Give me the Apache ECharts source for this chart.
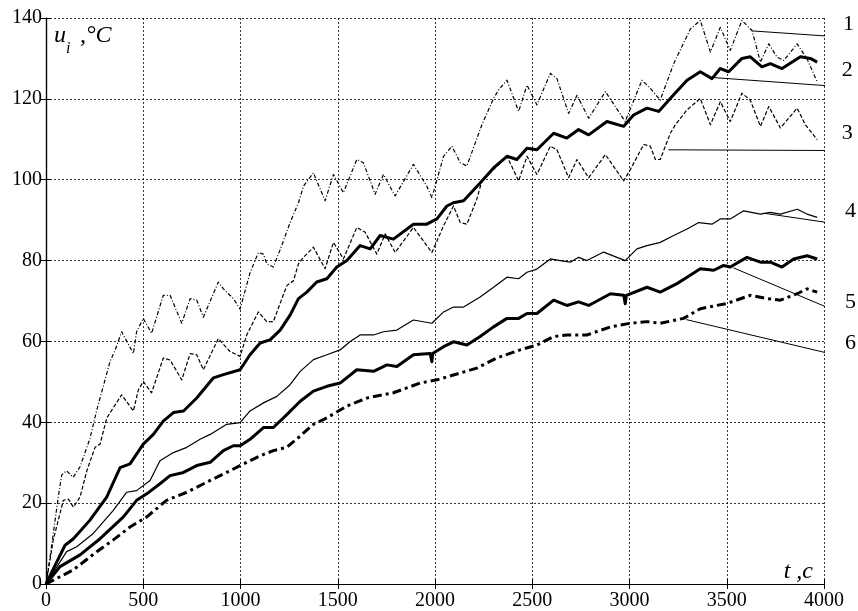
<!DOCTYPE html>
<html>
<head>
<meta charset="utf-8">
<script src="https://cdn.jsdelivr.net/npm/echarts@6/dist/echarts.min.js"></script>
<style>
  html, body { margin: 0; padding: 0; background: #fff; }
  #chart { width: 858px; height: 611px; }
</style>
</head>
<body>
<div id="chart"></div>
<script>
// Axis ticks
const xTicks = [0, 500, 1000, 1500, 2000, 2500, 3000, 3500, 4000];
const yTicks = [0, 20, 40, 60, 80, 100, 120, 140];

// Curve 1: thin dash-dot
const t1 = [0, 21, 63, 81, 106, 140, 175, 226, 261, 278, 329, 355, 389, 449, 466, 500, 543, 603, 638, 698, 741, 775, 809, 886, 912, 963, 998, 1049, 1092, 1118, 1135, 1169, 1212, 1255, 1298, 1324, 1375, 1435, 1478, 1529, 1598, 1632, 1692, 1735, 1795, 1889, 1958, 1984, 2044, 2087, 2130, 2164, 2241, 2301, 2327, 2370, 2430, 2473, 2524, 2593, 2627, 2687, 2730, 2790, 2876, 2961, 2978, 3064, 3107, 3158, 3227, 3313, 3364, 3416, 3467, 3518, 3578, 3630, 3673, 3716, 3759, 3793, 3862, 3913, 3965];
const u1 = [0, 6.7, 21.5, 27, 28, 26.4, 29, 36, 43, 46, 55, 57.8, 62.4, 57, 62.4, 65.7, 62, 71.4, 71.4, 64.5, 70.6, 70.2, 66, 74.7, 73, 70.6, 68, 77, 82, 81.6, 79.2, 78.4, 83.7, 89.4, 94.3, 98.4, 101.7, 94.8, 101.3, 96.8, 105, 104.2, 96.4, 101.3, 96, 103.8, 98.4, 95.6, 105.8, 108.3, 104.2, 103.4, 113.6, 120.1, 122.2, 124.6, 116.9, 123.4, 118.5, 126.3, 125, 116.4, 120.9, 115.2, 121.8, 115.6, 114.4, 124.6, 122.6, 119.7, 128.7, 137.3, 139.4, 131.6, 137.7, 132, 139.4, 136.9, 129.1, 133.6, 130.3, 129.5, 133.6, 129.9, 124.2];

// Curve 2: thick solid
const t2 = [0, 98, 141, 226, 312, 381, 432, 500, 552, 603, 655, 707, 775, 861, 912, 998, 1049, 1101, 1152, 1204, 1255, 1298, 1341, 1392, 1444, 1495, 1547, 1615, 1667, 1718, 1786, 1889, 1958, 2010, 2061, 2095, 2147, 2232, 2301, 2370, 2421, 2473, 2524, 2610, 2678, 2738, 2790, 2884, 2970, 3021, 3090, 3150, 3227, 3296, 3364, 3424, 3467, 3510, 3578, 3621, 3681, 3724, 3784, 3879, 3930, 3965];
const u2 = [0, 9.6, 11.2, 15.8, 21.5, 28.8, 29.7, 34.6, 37, 40.3, 42.4, 42.8, 46, 51, 51.8, 53, 56.7, 59.6, 60.4, 62.8, 66.5, 70.6, 72.2, 74.7, 75.5, 78.4, 80, 83.7, 82.9, 86.2, 85.3, 89, 89, 90.3, 93.5, 94.3, 94.8, 99.2, 102.9, 105.8, 105, 107.8, 107.4, 111.5, 110.3, 112.4, 111.1, 114.4, 113.2, 116, 117.7, 116.9, 121, 124.6, 126.7, 125, 127.5, 126.7, 130, 130.4, 127.9, 128.7, 127.5, 130.4, 130, 129.1];

// Curve 3: thin dashed
const t3 = [0, 38, 89, 115, 141, 175, 210, 252, 278, 312, 346, 389, 449, 475, 500, 543, 603, 638, 698, 741, 775, 809, 886, 946, 998, 1032, 1092, 1135, 1169, 1238, 1272, 1298, 1324, 1375, 1435, 1478, 1529, 1598, 1641, 1701, 1744, 1795, 1889, 1958, 1984, 2044, 2095, 2130, 2164, 2215, 2241, 2301, 2370, 2430, 2473, 2524, 2593, 2627, 2687, 2730, 2790, 2876, 2970, 3004, 3073, 3107, 3133, 3158, 3210, 3236, 3296, 3364, 3416, 3467, 3518, 3578, 3621, 3673, 3716, 3776, 3862, 3904, 3965];
const u3 = [0, 11, 20.7, 21, 19, 21.5, 28, 33.8, 34.6, 41, 43.6, 46.8, 42.8, 48, 50.1, 47.3, 55.9, 55.4, 50.5, 57, 56.7, 53, 60.7, 57.5, 56.3, 61.6, 67.3, 64.9, 64.9, 73.8, 75, 79.2, 80.8, 83.3, 78, 84.5, 80.4, 88.2, 87, 81.6, 86.6, 82, 88.2, 83.7, 82, 88.6, 93.5, 89.4, 89, 95.2, 99.7, 102.5, 105.8, 99.7, 105.8, 101.3, 108.3, 107.4, 100.5, 105, 100.5, 106.2, 99.7, 102.5, 108.7, 108.3, 105, 105, 111.5, 113.6, 117.3, 120.1, 113.6, 119.3, 114.4, 121.4, 119.7, 113.2, 118.1, 112.8, 117.7, 113.6, 109.9];

// Curve 4: thin solid
const t4 = [0, 106, 158, 243, 346, 415, 466, 535, 586, 655, 724, 792, 844, 929, 998, 1049, 1118, 1187, 1255, 1307, 1375, 1444, 1512, 1564, 1615, 1684, 1735, 1804, 1889, 1984, 2044, 2095, 2147, 2232, 2301, 2370, 2430, 2473, 2524, 2593, 2644, 2696, 2738, 2781, 2867, 2978, 3038, 3090, 3158, 3227, 3296, 3356, 3424, 3467, 3518, 3587, 3673, 3724, 3776, 3862, 3913, 3965];
const u4 = [0, 8, 9.2, 12.5, 18.2, 22.7, 23.1, 25.6, 30.5, 32.5, 33.8, 35.8, 37, 39.5, 39.9, 42.8, 44.8, 46.4, 49.3, 52.6, 55.5, 56.7, 57.9, 60, 61.6, 61.6, 62.4, 62.8, 65.3, 64.5, 67.3, 68.5, 68.5, 71, 73.4, 75.9, 75.5, 77.1, 77.9, 80.4, 80, 79.6, 80.8, 80, 82.1, 80, 82.9, 83.7, 84.5, 86.2, 87.8, 89.4, 89, 90.3, 90.3, 92.3, 91.5, 91.9, 91.5, 92.7, 91.5, 90.7];

// Curve 5: thick solid
const t5 = [0, 72, 175, 278, 398, 466, 518, 586, 638, 707, 775, 844, 912, 963, 998, 1049, 1118, 1169, 1238, 1307, 1375, 1444, 1512, 1598, 1684, 1753, 1804, 1889, 1975, 1984, 1988, 2044, 2095, 2164, 2232, 2301, 2370, 2430, 2473, 2524, 2610, 2678, 2738, 2790, 2902, 2970, 2978, 2984, 3090, 3158, 3244, 3296, 3364, 3433, 3484, 3518, 3604, 3673, 3724, 3784, 3844, 3913, 3965];
const u5 = [0, 4.3, 7.2, 11.2, 16.6, 20.7, 22.3, 24.8, 26.8, 27.6, 29.3, 30.1, 33, 34.2, 34.2, 35.8, 38.7, 38.7, 41.9, 45.2, 47.7, 48.9, 49.7, 53, 52.6, 54.2, 53.8, 56.7, 57, 55, 57, 58.7, 59.9, 59.1, 61.2, 63.6, 65.7, 65.7, 66.9, 66.9, 70.2, 68.9, 69.8, 68.9, 71.8, 71.4, 69.3, 71.4, 73.4, 72.2, 74.3, 75.9, 78, 77.6, 78.8, 78.4, 80.8, 79.6, 79.6, 78.4, 80.4, 81.2, 80.4];

// Curve 6: thick dash-dot
const t6 = [0, 72, 141, 261, 346, 432, 518, 620, 724, 827, 929, 998, 1101, 1169, 1238, 1307, 1375, 1444, 1547, 1650, 1786, 1924, 2010, 2130, 2215, 2318, 2438, 2524, 2610, 2678, 2781, 2902, 3004, 3090, 3158, 3278, 3364, 3501, 3621, 3707, 3776, 3862, 3913, 3965];
const u6 = [0, 1.8, 3.5, 8, 10.9, 14.1, 16.6, 20.7, 22.7, 25.2, 27.6, 29.3, 31.7, 33, 33.8, 36.6, 39.5, 41.1, 44, 46, 47.3, 49.7, 50.5, 52.2, 53.4, 55.9, 57.9, 59.1, 61.2, 61.6, 61.6, 63.6, 64.5, 64.9, 64.5, 65.7, 68.1, 69.4, 71.4, 70.6, 70.2, 71.8, 73, 72.2];

// Curve numbers and their leader lines (start on the curve, end past the right edge)
const curveNames = ['1', '2', '3', '4', '5', '6'];
const leaderStart = [[3632, 136.8], [3421, 125.3], [3200, 107.4], [3693, 91.7], [3534, 78.2], [3292, 65.4]];
const leaderEnd = [[4146, 135.1], [4146, 122.8], [4146, 107.2], [4146, 88.5], [4141, 65.9], [4151, 55.6]];
const namePos = [[4126, 138.5], [4120, 127], [4120, 111.5], [4136, 92.1], [4136, 69.8], [4136, 59.5]];

const zip = (t, u) => t.map((v, i) => [v, u[i]]);
const FONT = 'Liberation Serif';

const curveStyles = [
  { width: 1.2, type: [4, 2, 1, 2] },
  { width: 3, type: 'solid' },
  { width: 1.2, type: [4, 2] },
  { width: 1.2, type: 'solid' },
  { width: 3, type: 'solid' },
  { width: 3, type: [9, 4, 3, 4] }
];
const curves = [zip(t1, u1), zip(t2, u2), zip(t3, u3), zip(t4, u4), zip(t5, u5), zip(t6, u6)];

const series = curves.map((d, i) => ({
  type: 'line',
  data: d,
  showSymbol: false,
  silent: true,
  animation: false,
  z: 3,
  lineStyle: { color: '#000', width: curveStyles[i].width, type: curveStyles[i].type, join: 'round' }
}));

curveNames.forEach((n, i) => {
  series.push({
    type: 'line',
    data: [leaderStart[i], leaderEnd[i]],
    showSymbol: false,
    silent: true,
    animation: false,
    clip: false,
    z: 4,
    lineStyle: { color: '#000', width: 1 }
  });
});

const gridLine = { show: true, lineStyle: { color: '#000', width: 0.8, type: [2, 2] } };
const axisLine = { show: true, lineStyle: { color: '#000', width: 1.2 } };
const plain = v => String(v);

const chart = echarts.init(document.getElementById('chart'), null, { renderer: 'canvas' });
chart.setOption({
  backgroundColor: '#fff',
  animation: false,
  grid: { left: 46, right: 34, top: 18, bottom: 24, containLabel: false },
  xAxis: [
    {
      type: 'value', min: xTicks[0], max: xTicks[xTicks.length - 1], interval: xTicks[1] - xTicks[0],
      axisLine: axisLine,
      axisTick: { show: true, inside: true, length: 5, lineStyle: { color: '#000' } },
      splitLine: gridLine,
      axisLabel: { fontFamily: FONT, fontSize: 20, color: '#000', margin: 7, formatter: plain }
    },
    {
      type: 'value', position: 'top', min: xTicks[0], max: xTicks[xTicks.length - 1], interval: xTicks[1] - xTicks[0],
      axisLine: axisLine,
      axisTick: { show: true, inside: true, length: 5, lineStyle: { color: '#000' } },
      splitLine: { show: false },
      axisLabel: { show: false }
    }
  ],
  yAxis: [
    {
      type: 'value', min: yTicks[0], max: yTicks[yTicks.length - 1], interval: yTicks[1] - yTicks[0],
      axisLine: axisLine,
      axisTick: { show: true, inside: true, length: 5, lineStyle: { color: '#000' } },
      splitLine: gridLine,
      axisLabel: { fontFamily: FONT, fontSize: 20, color: '#000', margin: 4, formatter: plain }
    },
    {
      type: 'value', position: 'right', min: yTicks[0], max: yTicks[yTicks.length - 1], interval: yTicks[1] - yTicks[0],
      axisLine: axisLine,
      axisTick: { show: true, inside: true, length: 5, lineStyle: { color: '#000' } },
      splitLine: { show: false },
      axisLabel: { show: false }
    }
  ],
  series: series
});

// Axis titles and curve numbers, placed through the grid's coordinate conversion
const texts = [
  { type: 'text', left: 54, top: 24, style: { text: 'u', font: 'italic 24px "Liberation Serif"', fill: '#000' } },
  { type: 'text', left: 66, top: 41, style: { text: 'i', font: 'italic 16px "Liberation Serif"', fill: '#000' } },
  { type: 'text', left: 74, top: 24, style: { text: ' ,°C', font: 'italic 24px "Liberation Serif"', fill: '#000' } },
  { type: 'text', right: 45, top: 560, style: { text: 't ,c', font: 'italic 24px "Liberation Serif"', fill: '#000' } }
];
namePos.forEach((p, i) => {
  const px = chart.convertToPixel({ gridIndex: 0 }, p);
  texts.push({
    type: 'text', x: px[0], y: px[1], z: 10,
    style: { text: curveNames[i], font: '22px "Liberation Serif"', fill: '#000', align: 'center', verticalAlign: 'middle' }
  });
});
chart.setOption({ graphic: texts });
</script>
</body>
</html>
